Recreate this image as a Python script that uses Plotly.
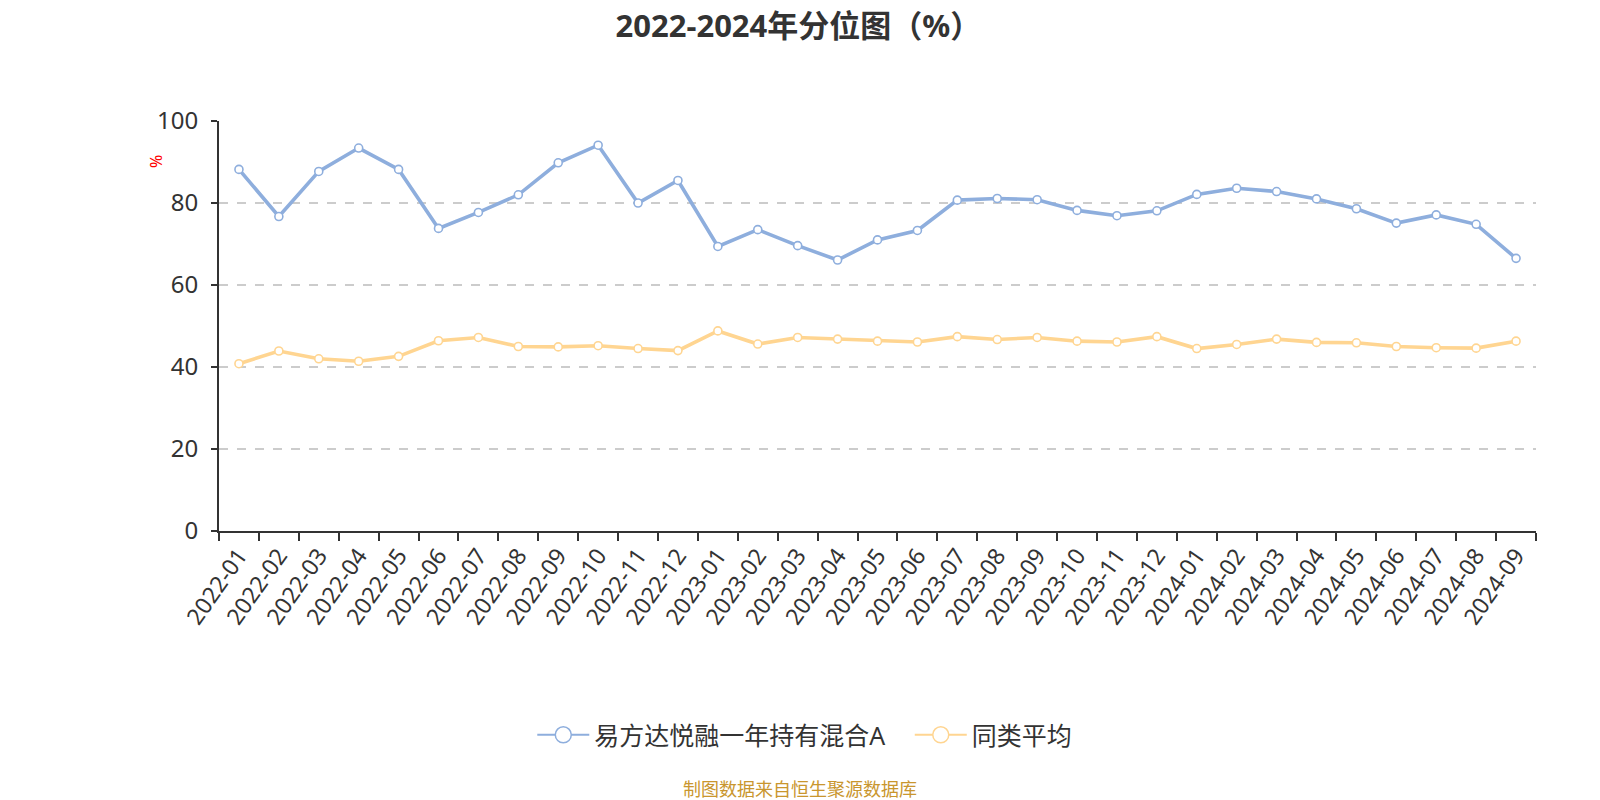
import plotly.graph_objects as go

months = ["2022-01", "2022-02", "2022-03", "2022-04", "2022-05", "2022-06", "2022-07", "2022-08",
          "2022-09", "2022-10", "2022-11", "2022-12", "2023-01", "2023-02", "2023-03", "2023-04",
          "2023-05", "2023-06", "2023-07", "2023-08", "2023-09", "2023-10", "2023-11", "2023-12",
          "2024-01", "2024-02", "2024-03", "2024-04", "2024-05", "2024-06", "2024-07", "2024-08",
          "2024-09"]

fund_values = [88.2, 76.7, 87.7, 93.4, 88.2, 73.8, 77.7, 82.0, 89.8, 94.1, 80.0, 85.5,
               69.4, 73.5, 69.6, 66.1, 71.0, 73.3, 80.7, 81.1, 80.8, 78.2, 76.9, 78.1,
               82.1, 83.6, 82.8, 81.0, 78.6, 75.1, 77.1, 74.8, 66.5]

peer_avg = [40.8, 43.9, 42.0, 41.4, 42.6, 46.4, 47.2, 45.0, 44.9, 45.2, 44.5, 44.0,
            48.8, 45.6, 47.2, 46.8, 46.3, 46.1, 47.4, 46.7, 47.2, 46.3, 46.1, 47.4,
            44.5, 45.5, 46.8, 46.0, 45.9, 45.0, 44.7, 44.6, 46.3]

series_names = ["易方达悦融一年持有混合A", "同类平均"]
colors = ["#8eaedd", "#ffd591"]
y_ticks = [0, 20, 40, 60, 80, 100]

FONT = "Noto Sans, Noto Sans CJK SC, sans-serif"

fig = go.Figure()
for name, vals, col in zip(series_names, [fund_values, peer_avg], colors):
    fig.add_trace(go.Scatter(
        x=months, y=vals, mode="lines+markers", name=name, showlegend=False,
        line=dict(color=col, width=3.6),
        marker=dict(size=8, color="white", line=dict(color=col, width=1.6)),
    ))
# legend-only entries with larger symbols
for name, col in zip(series_names, colors):
    fig.add_trace(go.Scatter(
        x=[None], y=[None], mode="lines+markers", name=name + "   ",
        line=dict(color=col, width=2),
        marker=dict(size=16, color="white", line=dict(color=col, width=1.5)),
    ))

fig.update_layout(
    width=1592, height=792,
    paper_bgcolor="white", plot_bgcolor="white",
    margin=dict(l=211, r=64, t=113, b=269, autoexpand=False),
    font=dict(family=FONT, color="#333333", size=20),
    title=dict(text="<b>2022-2024年分位图（%）</b>", x=0.4965, xanchor="center",
               y=0.977, yanchor="middle", font=dict(size=31, color="#333333", family=FONT)),
    showlegend=True,
    legend=dict(orientation="h", x=0.452, xanchor="center", y=-0.4976, yanchor="middle",
                font=dict(size=25, color="#333333"), itemwidth=52, traceorder="normal"),
)

fig.update_xaxes(
    type="category", categoryorder="array", categoryarray=months,
    range=[-0.5, len(months) - 0.5], automargin=False,
    showline=True, linecolor="#333333", linewidth=2,
    ticks="outside", tickson="boundaries", ticklen=8, tickwidth=2, tickcolor="#333333",
    tickangle=-55, tickfont=dict(size=23, color="#333333"),
    showgrid=False, zeroline=False,
)
fig.update_yaxes(
    range=[0, 100], tickvals=y_ticks, automargin=False,
    showline=True, linecolor="#333333", linewidth=2,
    ticks="outside", ticklen=6, tickwidth=2, tickcolor="#333333",
    ticklabelstandoff=8,
    tickfont=dict(size=24, color="#333333"),
    showgrid=True, gridcolor="#cccccc", gridwidth=1.5, griddash="dash",
    zeroline=False,
)

fig.add_annotation(text="%", xref="paper", yref="paper", x=-0.048, y=0.902,
                   xanchor="center", yanchor="middle",
                   showarrow=False, textangle=-90, font=dict(size=16, color="red"))
fig.add_annotation(text="制图数据来自恒生聚源数据库", xref="paper", yref="paper",
                   x=0.441, y=-0.629, xanchor="center", yanchor="middle", showarrow=False,
                   font=dict(size=18, color="#c9962e"))

fig.write_html("out.html")
